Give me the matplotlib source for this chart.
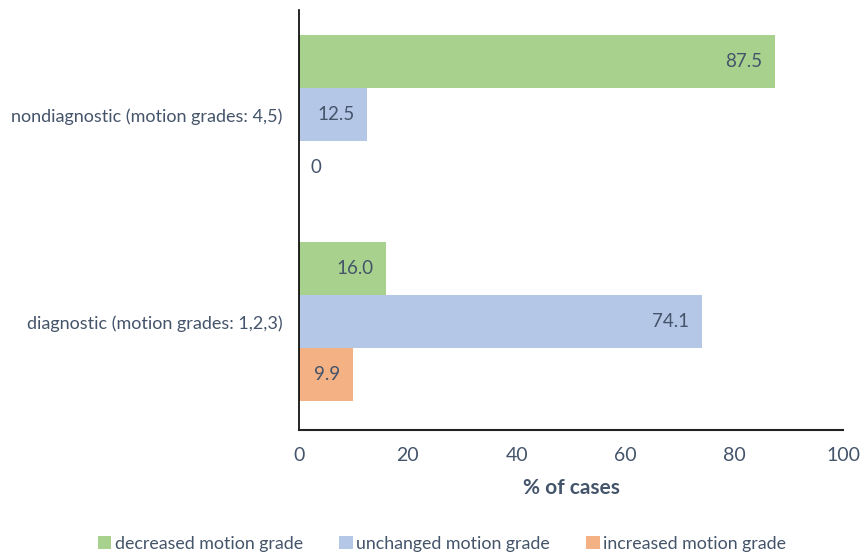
import matplotlib
matplotlib.use("Agg")
import matplotlib.pyplot as plt
from matplotlib.patches import Patch

categories = ["diagnostic (motion grades: 1,2,3)", "nondiagnostic (motion grades: 4,5)"]
series_names = ["decreased motion grade", "unchanged motion grade", "increased motion grade"]
decreased = [16.0, 87.5]
unchanged = [74.1, 12.5]
increased = [9.9, 0.0]
labels_dec = ["16.0", "87.5"]
labels_unc = ["74.1", "12.5"]
labels_inc = ["9.9", "0"]
xticks = [0, 20, 40, 60, 80, 100]

colors = ["#A9D18E", "#B4C7E7", "#F4B183"]
txt = "#44546A"
plt.rcParams['font.family'] = ['Lato', 'DejaVu Sans']

fig = plt.figure(figsize=(8.63, 5.54), dpi=100)
ax = fig.add_axes([299/863, (554-430)/554, (843-299)/863, 420/554])

h = 0.256
offsets = [h, 0, -h]
vals = [decreased, unchanged, increased]
labs = [labels_dec, labels_unc, labels_inc]
for s in range(3):
    ys = [i + offsets[s] for i in range(len(categories))]
    ax.barh(ys, vals[s], height=h, color=colors[s], label=series_names[s])
    for y, v, l in zip(ys, vals[s], labs[s]):
        if v > 0:
            ax.annotate(l, (v, y), xytext=(-9, 0), textcoords="offset points",
                        ha="right", va="center", fontsize=13.5, color=txt)
        else:
            ax.annotate(l, (v, y), xytext=(8, 0), textcoords="offset points",
                        ha="left", va="center", fontsize=13.5, color=txt)

ax.set_xlim(0, 100)
ax.set_ylim(-0.522, 1.507)
ax.set_xticks(xticks)
ax.set_xticklabels([str(t) for t in xticks], fontsize=14, color=txt)
ax.set_yticks(range(len(categories)))
ax.set_yticklabels(categories, fontsize=13, color=txt)
ax.tick_params(axis="both", length=0)
ax.tick_params(axis="x", pad=12)
ax.tick_params(axis="y", pad=12)
ax.set_xlabel("% of cases", fontsize=15, fontweight="bold", color=txt, labelpad=10)
for sp in ["top", "right"]:
    ax.spines[sp].set_visible(False)
ax.spines["left"].set_color("#000000")
ax.spines["left"].set_linewidth(1.2)
ax.spines["bottom"].set_color("#222222")
ax.spines["bottom"].set_linewidth(1.5)

handles = [Patch(facecolor=c, edgecolor="none") for c in colors]
leg = fig.legend(handles, series_names, loc="center", bbox_to_anchor=(442/863, 1 - 544/554),
                 ncol=3, frameon=False, fontsize=12.8, handlelength=0.75, handleheight=0.75,
                 handletextpad=0.2, columnspacing=2.05)
for t in leg.get_texts():
    t.set_color(txt)

fig.savefig("out.png", dpi=100)
